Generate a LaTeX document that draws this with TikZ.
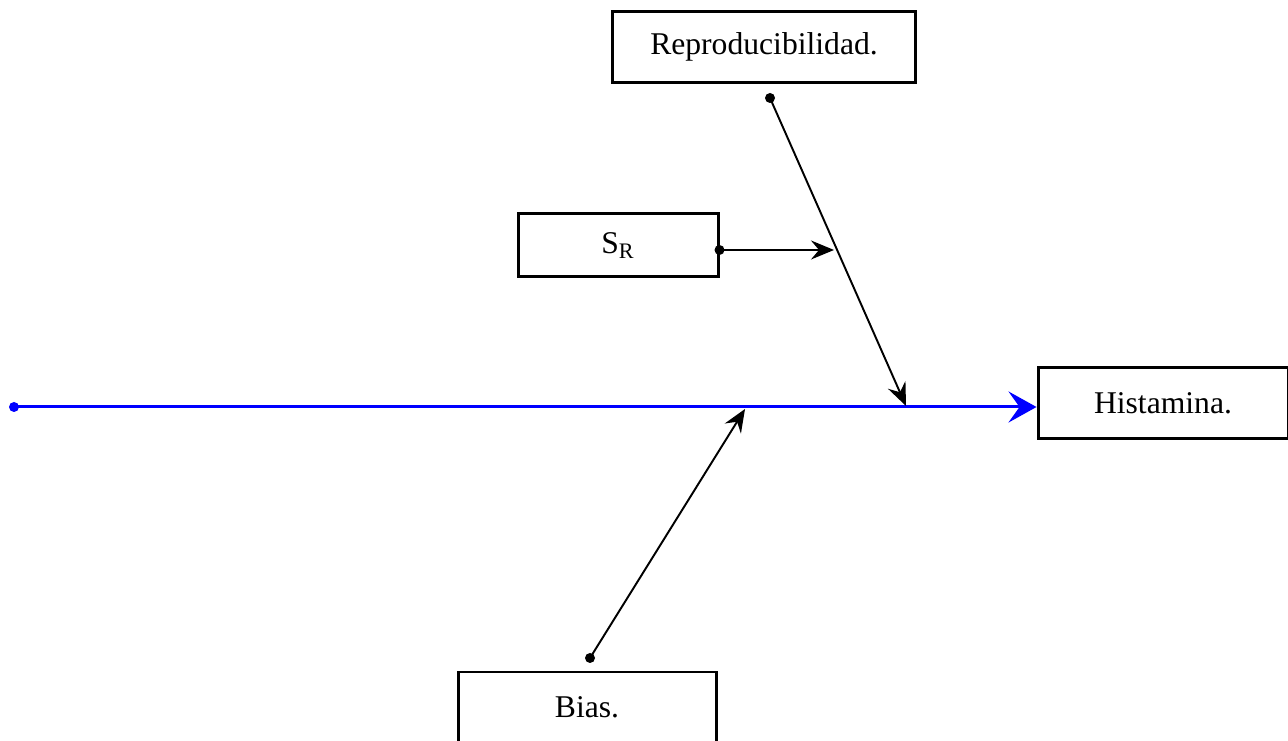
\documentclass[tikz,border=0pt]{standalone}
\usepackage{fontspec}
\setmainfont{Liberation Serif}
\usetikzlibrary{arrows.meta}
\begin{document}
\begin{tikzpicture}[
  causebox/.style={draw,line width=1.7pt,minimum width=#1,minimum height=1.42cm,inner sep=0,font=\fontsize{18}{22}\selectfont},
  branch/.style={line width=1.1pt,-{Stealth[length=0.46cm,width=0.38cm,inset=0.16cm]}},
  spine/.style={blue,line width=1.7pt,-{Stealth[length=0.56cm,width=0.62cm,inset=0.22cm]}},
  dotend/.style={circle,fill,inner sep=0,minimum size=0.2cm}]
\useasboundingbox(0,0)rectangle(25.76,14.82);
% boxes
\node[causebox=6.06cm](repro)at(15.28,13.88){Reproducibilidad.};
\node[causebox=4cm,minimum height=1.26cm](sr)at(12.36,9.91){S\textsubscript{R}};
\node[causebox=5cm](hist)at(23.26,6.75){Histamina.};
\node[causebox=5.16cm](bias)at(11.74,0.67){Bias.};
% spine
\node[dotend,blue](tail)at(0.28,6.68){};
\coordinate(head)at(hist.west|-tail);
\draw[spine](tail.center)--(head);
% branches
\node[dotend](rdot)at(15.40,12.86){};
\coordinate(rend)at(18.12,6.70);
\draw[branch](rdot.center)--(rend);
\node[dotend](sdot)at(sr.east|-0,9.82){};
\coordinate(send)at(16.68,9.82);
\draw[branch](sdot.center)--(send);
\node[dotend](bdot)at(11.80,1.66){};
\coordinate(bend)at(14.90,6.64);
\draw[branch](bdot.center)--(bend);
\end{tikzpicture}
\end{document}
